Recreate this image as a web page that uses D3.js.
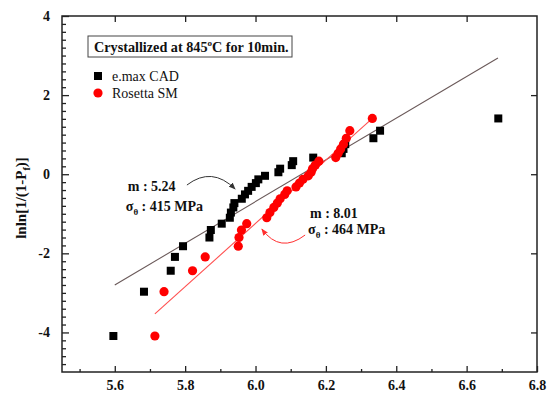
<!DOCTYPE html>
<html>
<head>
<meta charset="utf-8">
<script src="https://cdn.jsdelivr.net/npm/d3@7"></script>
<style>
  html, body { margin: 0; padding: 0; background: #fff; }
  svg { display: block; }
  text { font-family: "Liberation Serif", "Times New Roman", serif; }
</style>
</head>
<body>
<svg id="chart" width="553" height="396"></svg>
<script>
// ---------------- data ----------------
const seriesNames = ["e.max CAD", "Rosetta SM"];
const emaxX = [5.596, 5.683, 5.759, 5.771, 5.794, 5.869, 5.873, 5.904, 5.927, 5.930,
               5.937, 5.940, 5.961, 5.970, 5.979, 5.989, 6.001, 6.008, 6.027, 6.065,
               6.070, 6.103, 6.107, 6.164, 6.245, 6.250, 6.255, 6.335, 6.354, 6.690];
const emaxY = [-4.09, -2.97, -2.44, -2.09, -1.82, -1.60, -1.41, -1.25, -1.10, -0.97,
               -0.84, -0.73, -0.62, -0.51, -0.42, -0.32, -0.225, -0.13, -0.04, 0.05,
               0.14, 0.23, 0.33, 0.42, 0.53, 0.64, 0.76, 0.91, 1.10, 1.41];
const rosettaX = [5.714, 5.740, 5.821, 5.857, 5.951, 5.953, 5.960, 5.975, 6.032, 6.041,
                  6.052, 6.062, 6.070, 6.083, 6.090, 6.115, 6.125, 6.135, 6.150, 6.158,
                  6.162, 6.170, 6.180, 6.228, 6.235, 6.242, 6.250, 6.258, 6.268, 6.332];
const rosettaY = [-4.09, -2.97, -2.44, -2.09, -1.82, -1.60, -1.41, -1.25, -1.10, -0.97,
                  -0.84, -0.73, -0.62, -0.51, -0.42, -0.32, -0.225, -0.13, -0.04, 0.05,
                  0.14, 0.23, 0.33, 0.42, 0.53, 0.64, 0.76, 0.91, 1.10, 1.41];
// fitted Weibull lines (end points)
const emaxFitX = [5.600, 6.689];
const emaxFitY = [-2.80, 2.94];
const rosettaFitX = [5.714, 6.332];
const rosettaFitY = [-3.53, 1.41];
// axes
const xDomain = [5.45, 6.8];
const yDomain = [-5, 4];
const xTicks = [5.6, 5.8, 6.0, 6.2, 6.4, 6.6, 6.8];
const yTicks = [-4, -2, 0, 2, 4];
const titleText = ["Crystallized at 845", "o", "C for 10min."];
const yLabel = ["lnln[1/(1-P", "f", ")]"];
const annotEmax = ["m : 5.24", "415 MPa"];
const annotRosetta = ["m : 8.01", "464 MPa"];

// ---------------- layout ----------------
const svg = d3.select("#chart");
const L = 62, R = 537, T = 16, B = 372;
const x = d3.scaleLinear().domain(xDomain).range([L, R]);
const y = d3.scaleLinear().domain(yDomain).range([B, T]);

// frame
svg.append("rect").attr("x", L).attr("y", T).attr("width", R - L).attr("height", B - T)
  .attr("fill", "none").attr("stroke", "#222").attr("stroke-width", 1.5);

function styleAxis(g) {
  g.select(".domain").remove();
  g.selectAll(".tick line").attr("stroke", "#222").attr("stroke-width", 1.3);
  g.selectAll(".tick text").attr("font-size", 14).attr("font-weight", "bold")
    .attr("fill", "#111").attr("font-family", "Liberation Serif, serif");
}
const xMinor = d3.range(5.5, 6.75, 0.1).filter(v => !xTicks.some(t => Math.abs(t - v) < 1e-6));
const yMinor = d3.range(-4.8, 4, 0.2).filter(v => !yTicks.some(t => Math.abs(t - v) < 1e-6));

// bottom axis
svg.append("g").attr("transform", `translate(0,${B})`)
  .call(d3.axisBottom(x).tickValues(xTicks).tickSize(-6).tickPadding(8).tickFormat(d3.format(".1f")))
  .call(styleAxis);
svg.append("g").attr("transform", `translate(0,${B})`)
  .call(d3.axisBottom(x).tickValues(xMinor).tickSize(-3).tickFormat(""))
  .call(styleAxis);
// top axis (major only)
svg.append("g").attr("transform", `translate(0,${T})`)
  .call(d3.axisTop(x).tickValues(xTicks.filter(v => v < 6.79)).tickSize(-6).tickFormat(""))
  .call(styleAxis);
// left axis
svg.append("g").attr("transform", `translate(${L},0)`)
  .call(d3.axisLeft(y).tickValues(yTicks).tickSize(-7).tickPadding(12).tickFormat(d => String(d)))
  .call(styleAxis);
svg.append("g").attr("transform", `translate(${L},0)`)
  .call(d3.axisLeft(y).tickValues(yMinor).tickSize(-4).tickFormat(""))
  .call(styleAxis);
// right axis (major only)
svg.append("g").attr("transform", `translate(${R},0)`)
  .call(d3.axisRight(y).tickValues(yTicks.filter(v => v < 3.99)).tickSize(-6).tickFormat(""))
  .call(styleAxis);

// y label
const yl = svg.append("text")
  .attr("transform", `translate(26,${(T + B) / 2 + 4}) rotate(-90)`)
  .attr("text-anchor", "middle").attr("font-size", 15).attr("font-weight", "bold").attr("fill", "#111");
yl.append("tspan").text(yLabel[0]);
yl.append("tspan").attr("font-size", 10).attr("dy", 4).text(yLabel[1]);
yl.append("tspan").attr("dy", -4).text(yLabel[2]);

// fit lines
const line = d3.line().x(d => x(d[0])).y(d => y(d[1]));
svg.append("path").datum(d3.zip(emaxFitX, emaxFitY)).attr("d", line)
  .attr("fill", "none").attr("stroke", "#6b5a5a").attr("stroke-width", 1.1);
svg.append("path").datum(d3.zip(rosettaFitX, rosettaFitY)).attr("d", line)
  .attr("fill", "none").attr("stroke", "#ff5050").attr("stroke-width", 1.1);

// points
const sq = 8;
svg.append("g").selectAll("rect").data(d3.zip(emaxX, emaxY)).join("rect")
  .attr("x", d => x(d[0]) - sq / 2).attr("y", d => y(d[1]) - sq / 2)
  .attr("width", sq).attr("height", sq).attr("fill", "#000");
svg.append("g").selectAll("circle").data(d3.zip(rosettaX, rosettaY)).join("circle")
  .attr("cx", d => x(d[0])).attr("cy", d => y(d[1])).attr("r", 4.6).attr("fill", "#ff0000");

// title box
svg.append("rect").attr("x", 88).attr("y", 36).attr("width", 204).attr("height", 21)
  .attr("fill", "#fff").attr("stroke", "#444").attr("stroke-width", 1);
const tt = svg.append("text").attr("x", 94).attr("y", 52).attr("font-size", 14.2)
  .attr("font-weight", "bold").attr("fill", "#111");
tt.append("tspan").text(titleText[0]);
tt.append("tspan").attr("font-size", 9).attr("dy", -6).text(titleText[1]);
tt.append("tspan").attr("dy", 6).text(titleText[2]);

// legend
svg.append("rect").attr("x", 94).attr("y", 72).attr("width", 8).attr("height", 8).attr("fill", "#000");
svg.append("text").attr("x", 112).attr("y", 81).attr("font-size", 14).attr("fill", "#111").text(seriesNames[0]);
svg.append("circle").attr("cx", 98).attr("cy", 93).attr("r", 4.6).attr("fill", "#ff0000");
svg.append("text").attr("x", 112).attr("y", 98).attr("font-size", 14).attr("fill", "#111").text(seriesNames[1]);

// annotations
function annot(xm, ym, ys, txt) {
  svg.append("text").attr("x", x(xm)).attr("y", y(ym)).attr("font-size", 14)
    .attr("font-weight", "bold").attr("fill", "#111").text(txt[0]);
  const t = svg.append("text").attr("x", x(xm) - 2).attr("y", y(ys)).attr("font-size", 14)
    .attr("font-weight", "bold").attr("fill", "#111");
  t.append("tspan").text("σ");
  t.append("tspan").attr("font-size", 9).attr("dy", 4).text("θ");
  t.append("tspan").attr("dy", -4).text(" : " + txt[1]);
}
annot(5.637, -0.425, -0.93, annotEmax);
annot(6.155, -1.107, -1.51, annotRosetta);

// arrows
const defs = svg.append("defs");
function marker(id, color) {
  defs.append("marker").attr("id", id).attr("viewBox", "0 0 10 10").attr("refX", 9).attr("refY", 5)
    .attr("markerWidth", 7).attr("markerHeight", 7).attr("orient", "auto")
    .attr("markerUnits", "userSpaceOnUse")
    .append("path").attr("d", "M0,1 L10,5 L0,9 Z").attr("fill", color);
}
marker("ahk", "#333");
marker("ahr", "#ff3030");
const qpath = (p) => `M${x(p[0][0])},${y(p[0][1])} Q${x(p[1][0])},${y(p[1][1])} ${x(p[2][0])},${y(p[2][1])}`;
svg.append("path").attr("d", qpath([[5.805, -0.273], [5.876, 0.207], [5.942, -0.374]]))
  .attr("fill", "none").attr("stroke", "#333").attr("stroke-width", 1).attr("marker-end", "url(#ahk)");
svg.append("path").attr("d", qpath([[6.141, -1.537], [6.070, -2.017], [6.018, -1.385]]))
  .attr("fill", "none").attr("stroke", "#ff3030").attr("stroke-width", 1).attr("marker-end", "url(#ahr)");
</script>
</body>
</html>
